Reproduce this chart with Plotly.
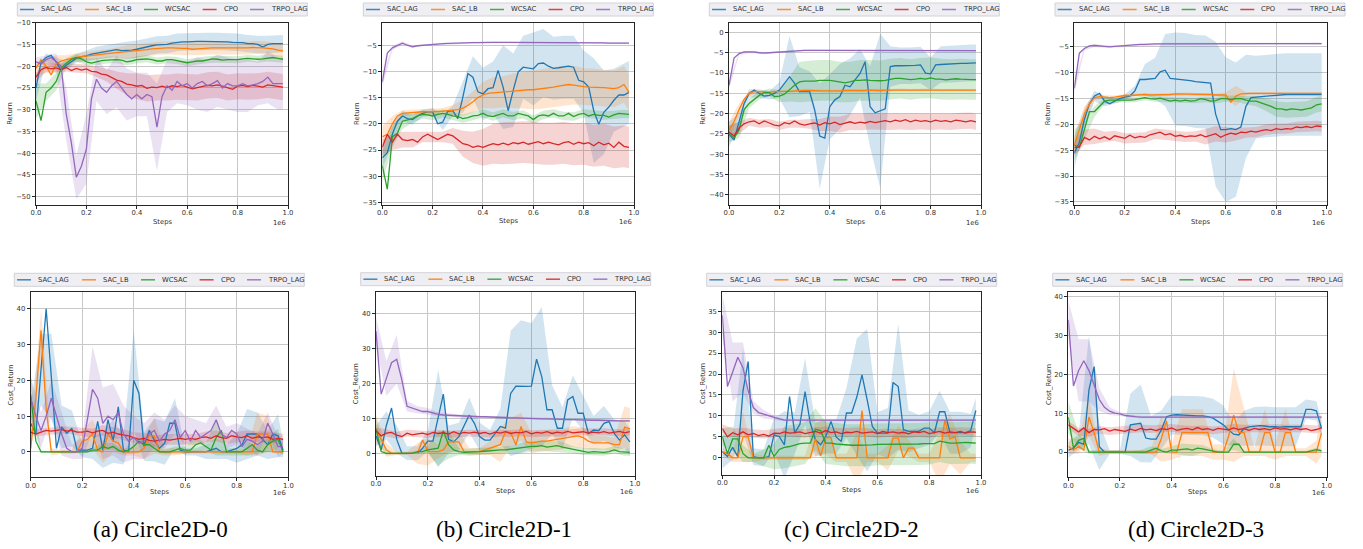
import plotly.graph_objects as go

# ---------------- data ----------------
# training steps (units of 1e6)
STEPS = [0.00, 0.02, 0.04, 0.06, 0.08, 0.10, 0.12, 0.14, 0.16, 0.18,
         0.20, 0.22, 0.24, 0.26, 0.28, 0.30, 0.32, 0.34, 0.36, 0.38,
         0.40, 0.42, 0.44, 0.46, 0.48, 0.50, 0.52, 0.54, 0.56, 0.58,
         0.60, 0.62, 0.64, 0.66, 0.68, 0.70, 0.72, 0.74, 0.76, 0.78,
         0.80, 0.82, 0.84, 0.86, 0.88, 0.90, 0.92, 0.94, 0.96, 0.98]
# steps at which the spread (std) was read
BAND_STEPS = [0.00, 0.04, 0.08, 0.12, 0.16, 0.20, 0.24, 0.28, 0.32, 0.36,
              0.40, 0.44, 0.48, 0.52, 0.56, 0.60, 0.64, 0.68, 0.72, 0.76,
              0.80, 0.84, 0.88, 0.92, 0.96, 0.98]

SERIES = ["SAC_LAG", "SAC_LB", "WCSAC", "CPO", "TRPO_LAG"]
COLORS = ["#1f77b4", "#ff7f0e", "#2ca02c", "#d62728", "#9467bd"]
CAPTIONS = ["(a) Circle2D-0", "(b) Circle2D-1", "(c) Circle2D-2", "(d) Circle2D-3"]

X_TICKS = [0.0, 0.2, 0.4, 0.6, 0.8, 1.0]
A_RET_TICKS = [-50, -45, -40, -35, -30, -25, -20, -15, -10]
B_RET_TICKS = [-35, -30, -25, -20, -15, -10, -5]
C_RET_TICKS = [-40, -35, -30, -25, -20, -15, -10, -5, 0]
D_RET_TICKS = [-35, -30, -25, -20, -15, -10, -5]
A_COST_TICKS = [0, 10, 20, 30, 40]
B_COST_TICKS = [0, 10, 20, 30, 40]
C_COST_TICKS = [0, 5, 10, 15, 20, 25, 30, 35]
D_COST_TICKS = [0, 10, 20, 30, 40]

# ---- (a) Circle2D-0 : Return ----
A_RET_SAC_LAG = [
    -25, -19, -18, -17.5, -19, -21, -19.8, -19, -18.2, -17.8,
    -17.6, -17.2, -17, -16.8, -16.6, -16.3, -16.2, -16.4, -16.4, -16.3,
    -16.1, -15.8, -15.6, -15.3, -15.1, -15, -15, -14.7, -14.5, -14.4,
    -14.4, -14.3, -14.3, -14.3, -14.3, -14.3, -14.3, -14.3, -14.4, -14.5,
    -14.5, -14.6, -14.8, -14.8, -15, -15.6, -15, -14.8, -14.8, -14.8]
A_RET_SAC_LAG_SD = [3, 1, 1, 1, 1, 1.2, 1.5, 1.5, 1.5, 2, 2, 2, 2, 2, 2, 2, 2, 2, 2, 2, 2, 2, 2, 2, 2, 2]
A_RET_SAC_LB = [
    -20.5, -18.5, -20, -22, -19.5, -18.8, -18.5, -18.2, -18, -17.8,
    -17.7, -17.6, -17.5, -17.3, -17.1, -17, -16.9, -16.8, -16.7, -16.6,
    -16.5, -16.3, -16.2, -16, -15.9, -15.9, -15.8, -15.8, -15.9, -15.9,
    -15.9, -16.1, -16, -15.9, -15.8, -15.8, -15.8, -15.8, -15.9, -15.9,
    -15.9, -15.8, -15.8, -15.7, -15.7, -15.8, -15.9, -16, -16.3, -16.5]
A_RET_SAC_LB_SD = [1.5, 1.5, 2, 1, 1, 1, 1, 1, 1.2, 1.5, 1.5, 1.5, 1.5, 1.5, 1.5, 1.5, 1.5, 1.5, 1.5, 1.5, 1.5, 1.5, 1.5, 1.5, 1.5, 1.5]
A_RET_WCSAC = [
    -28, -32.5, -26, -25, -23.5, -20.5, -19.3, -18.5, -18, -18.3,
    -19, -19.3, -19, -18.7, -18.6, -18.5, -18.5, -18.6, -19, -18.8,
    -18.5, -18.4, -18.3, -18.5, -18.8, -18.8, -18.5, -18.5, -18.7, -19,
    -19.2, -19, -18.8, -18.8, -18.5, -18.3, -18.4, -18.6, -18.5, -18.5,
    -18.5, -18.3, -18.2, -18.3, -18.4, -18.3, -18.1, -18, -18.2, -18.4]
A_RET_WCSAC_SD = [4, 2, 2, 1.2, 0.8, 0.8, 0.8, 0.8, 0.8, 0.8, 0.8, 0.8, 0.8, 0.8, 0.8, 0.8, 0.8, 0.8, 0.8, 0.8, 0.8, 0.8, 0.8, 0.8, 0.8, 0.8]
A_RET_CPO = [
    -22.5, -20.8, -20.3, -20.6, -20.4, -20.8, -20.3, -21, -20.5, -20.9,
    -20.6, -21.2, -21.3, -21.8, -22, -22.6, -23.2, -23.5, -24.1, -24.3,
    -24.6, -24.4, -25.1, -24.8, -24.9, -24.6, -24.9, -24.5, -24.7, -24.4,
    -24.8, -25.2, -24.9, -24.6, -24.4, -24.5, -24.3, -24.6, -24.9, -25.3,
    -24.6, -24.4, -24.7, -24.4, -24.6, -24.8, -24.3, -24.5, -24.6, -24.8]
A_RET_CPO_SD = [1, 1, 1, 1, 1, 1, 1.2, 1.5, 2, 2.5, 3, 3, 3, 3, 3, 3, 3, 3, 3, 3, 3, 3, 3, 3, 3, 3]
A_RET_TRPO_LAG = [
    -19, -19.5, -18.5, -18, -19, -20, -31, -37.5, -45.5, -43,
    -39, -27.5, -23, -25, -26, -24.5, -23.5, -25, -26.5, -27.5,
    -26.5, -27.5, -26.5, -27, -34, -27, -24.5, -25.5, -23.5, -24.5,
    -24, -25, -24, -23.5, -24.5, -24, -23.3, -25, -24, -24.5,
    -24.5, -24, -24.5, -24.3, -24, -23.5, -22.5, -24, -24, -24]
A_RET_TRPO_LAG_SD = [1, 1, 2, 6, 5, 8, 5, 5, 6, 6, 5, 5, 10, 6, 5, 5, 6, 6, 6, 6, 6, 6, 5, 6, 6, 6]

# ---- (b) Circle2D-1 : Return ----
B_RET_SAC_LAG = [
    -26.5, -25.5, -22, -19.5, -18.5, -19, -19.2, -18.5, -18, -17.7,
    -17.7, -20, -19.7, -17.6, -17.5, -19, -14.9, -10.4, -11.1, -13.9,
    -14.3, -13.3, -13.1, -9.8, -13, -17.5, -13.6, -10.1, -9.2, -9.3,
    -9.5, -8.5, -8.4, -9, -9.4, -9.3, -9.2, -9, -9.2, -11.7,
    -12, -13, -17.5, -20.1, -17.8, -16.8, -15.5, -14.5, -14.5, -14]
B_RET_SAC_LAG_SD = [2, 2, 1, 1, 0.7, 0.7, 1.5, 1, 3, 4, 5, 5, 8, 7, 6, 7, 6.5, 6, 6, 6, 6, 10, 8, 6, 6, 6]
B_RET_SAC_LB = [
    -22.5, -22, -20, -18.5, -18, -17.9, -17.8, -17.8, -17.7, -17.7,
    -17.7, -17.6, -17.6, -17.5, -17.4, -17.3, -17, -16.5, -15.8, -15,
    -14.5, -14.2, -14.1, -14, -13.9, -13.8, -13.7, -13.7, -13.6, -13.5,
    -13.5, -13.4, -13.3, -13.1, -13, -12.8, -12.7, -12.5, -12.6, -12.8,
    -12.9, -13, -13, -13, -13.1, -13.2, -13.3, -13.1, -12.5, -14]
B_RET_SAC_LB_SD = [2, 1.5, 0.6, 0.5, 0.5, 0.5, 0.6, 1, 1.5, 2, 2.5, 3, 3, 3.3, 3.5, 3.7, 3.8, 3.8, 3.8, 3.7, 3.5, 3.5, 3.5, 3.5, 3.5, 3.5]
B_RET_WCSAC = [
    -28, -32.5, -22.5, -21.8, -19.5, -19.2, -19, -18.5, -18.2, -18.3,
    -18.5, -18.2, -18, -18.2, -18.5, -18.6, -19, -18.8, -18.5, -18.4,
    -18, -18.5, -18.6, -18.3, -18, -18.5, -18.5, -18, -18.2, -18.5,
    -19.2, -18.5, -18.3, -18.5, -18, -18.5, -18.5, -18, -18.6, -18.2,
    -18, -18.5, -18.2, -18.4, -18.4, -18.7, -18.3, -18, -18.1, -18.2]
B_RET_WCSAC_SD = [3, 2, 1.5, 0.8, 0.8, 0.8, 0.8, 0.8, 0.8, 0.8, 0.8, 0.8, 0.8, 0.8, 0.8, 0.8, 0.8, 0.8, 0.8, 0.8, 0.8, 0.8, 0.8, 0.8, 0.8, 0.8]
B_RET_CPO = [
    -24.5, -22, -23.5, -22, -23, -23.2, -23, -23.5, -22.5, -22,
    -22.5, -23, -22.5, -22, -22.3, -23, -23.8, -24, -24.5, -24.2,
    -24.5, -24.1, -23.8, -24, -23.7, -24, -23.6, -23.8, -23.5, -23.9,
    -23.6, -23.4, -23.8, -23.5, -23.8, -24, -23.6, -23.4, -23.9, -23.5,
    -23.8, -23.6, -24.2, -23.5, -24, -23.7, -24.5, -23.5, -24.3, -24.5]
B_RET_CPO_SD = [1.5, 1.5, 1.5, 1.5, 1, 1, 1, 1.5, 2.5, 3, 3.5, 3.8, 4, 4, 4, 4, 4, 4, 4, 4, 4, 4, 4, 4, 4, 4]
B_RET_TRPO_LAG = [
    -12, -6.5, -5.5, -5, -4.6, -5, -5.3, -5.1, -5, -4.95,
    -4.9, -4.8, -4.7, -4.65, -4.6, -4.6, -4.55, -4.5, -4.5, -4.5,
    -4.45, -4.45, -4.45, -4.45, -4.45, -4.45, -4.45, -4.45, -4.45, -4.45,
    -4.45, -4.45, -4.45, -4.45, -4.5, -4.5, -4.5, -4.5, -4.5, -4.5,
    -4.5, -4.5, -4.55, -4.55, -4.55, -4.6, -4.6, -4.6, -4.6, -4.6]
B_RET_TRPO_LAG_SD = [1, 0.4, 0.3, 0.2, 0.15, 0.15, 0.15, 0.15, 0.15, 0.15, 0.15, 0.15, 0.15, 0.15, 0.15, 0.15, 0.15, 0.15, 0.15, 0.15, 0.15, 0.15, 0.15, 0.15, 0.15, 0.15]

# ---- (c) Circle2D-2 : Return ----
C_RET_SAC_LAG = [
    -25, -26.5, -22, -17.5, -15, -14.2, -15, -15.7, -15.5, -15,
    -14.2, -12.5, -10.9, -12.5, -14.6, -14.5, -14.6, -19.1, -25.5, -26,
    -18.3, -16.6, -15.8, -13, -13.4, -11.7, -10.1, -7.2, -18.3, -19.8,
    -19.3, -18.8, -8.4, -8.2, -8.2, -8.2, -8.2, -8.1, -8, -10,
    -10.2, -8, -7.9, -7.8, -7.8, -7.7, -7.6, -7.6, -7.5, -7.5]
C_RET_SAC_LAG_SD = [3, 2, 1, 1, 1, 2, 10, 6, 5, 13, 8, 8, 7, 6, 10, 19, 5, 4.5, 4.5, 4.5, 4, 4.5, 4.5, 4.5, 4.5, 4.5]
C_RET_SAC_LB = [
    -24, -22, -19, -16.5, -15, -14.5, -14.6, -14.7, -14.7, -14.6,
    -14.5, -14.5, -14.5, -14.4, -14.3, -14.3, -14.3, -14.4, -14.4, -14.4,
    -14.4, -14.5, -14.4, -14.3, -14.3, -14.4, -14.4, -14.3, -14.2, -14.3,
    -14.3, -14.2, -14.2, -14.2, -14.1, -14.1, -14.2, -14.2, -14.1, -14.1,
    -14.1, -14.2, -14.2, -14.2, -14.2, -14.1, -14.2, -14.2, -14.2, -14.2]
C_RET_SAC_LB_SD = [2, 1.5, 0.5, 0.3, 0.3, 0.3, 0.3, 0.3, 0.3, 0.3, 0.3, 0.3, 0.3, 0.3, 0.3, 0.3, 0.3, 0.3, 0.3, 0.3, 0.3, 0.3, 0.3, 0.3, 0.3, 0.3]
C_RET_WCSAC = [
    -25, -26, -24, -19, -17.5, -16.5, -15.5, -14.8, -14.8, -15.8,
    -15.7, -15.2, -14, -13, -12.2, -12, -12, -12, -11.8, -11.8,
    -11.8, -12, -12.2, -12.4, -12.2, -11.8, -11.8, -11.7, -11.8, -11.9,
    -11.9, -11.8, -11.5, -11.3, -11.3, -11.4, -11.6, -11.5, -11.3, -11.5,
    -11.2, -11.5, -11.5, -11.7, -11.6, -11.4, -11.5, -11.6, -11.6, -11.6]
C_RET_WCSAC_SD = [2, 2, 1.2, 1, 1, 1.5, 3, 5, 5, 5, 5, 5, 5, 5, 5, 5, 5, 5, 5, 5, 5, 5, 5, 5, 5, 5]
C_RET_CPO = [
    -24.5, -25.5, -23.5, -22.5, -22, -21.8, -22.5, -21.8, -22.3, -22.8,
    -23, -22.2, -22.5, -21.8, -22.5, -22.8, -22.5, -22.3, -22.8, -22.2,
    -22.5, -22.1, -22.7, -22.3, -22, -22.4, -22.1, -22.3, -21.9, -22.2,
    -22, -21.7, -22, -21.6, -21.9, -21.5, -22, -21.6, -21.9, -21.7,
    -22, -21.6, -21.9, -21.7, -22, -21.6, -21.8, -22, -21.7, -22]
C_RET_CPO_SD = [1.5, 1.5, 1, 1, 1, 1, 1, 1, 1.2, 1.5, 1.8, 2, 2, 2, 2, 2, 2, 2, 2, 2, 2, 2, 2, 2, 2, 2]
C_RET_TRPO_LAG = [
    -13, -6.3, -5.2, -4.8, -4.8, -4.8, -5, -5.1, -5, -4.9,
    -4.8, -4.7, -4.6, -4.5, -4.45, -4.4, -4.4, -4.4, -4.4, -4.4,
    -4.4, -4.4, -4.4, -4.4, -4.4, -4.4, -4.4, -4.4, -4.4, -4.4,
    -4.4, -4.4, -4.4, -4.4, -4.4, -4.4, -4.4, -4.4, -4.4, -4.4,
    -4.4, -4.4, -4.4, -4.4, -4.4, -4.45, -4.45, -4.45, -4.5, -4.5]
C_RET_TRPO_LAG_SD = [1, 0.4, 0.3, 0.25, 0.2, 0.2, 0.2, 0.2, 0.2, 0.2, 0.2, 0.2, 0.2, 0.2, 0.2, 0.2, 0.2, 0.2, 0.2, 0.2, 0.2, 0.2, 0.2, 0.2, 0.2, 0.2]

# ---- (d) Circle2D-3 : Return ----
D_RET_SAC_LAG = [
    -25.5, -23.5, -19, -16, -14.5, -14, -15.5, -16, -15.5, -15,
    -14.7, -14.5, -13.5, -11.3, -11.3, -11.2, -11.1, -9.8, -9.5, -11.1,
    -11.2, -11.2, -11.3, -11.5, -11.7, -11.8, -11.8, -12, -18, -21,
    -21, -20.8, -21, -20.5, -16.5, -14.8, -14.7, -14.6, -14.5, -14.4,
    -14.3, -14.3, -14.2, -14.2, -14.2, -14.2, -14.2, -14.2, -14.2, -14.2]
D_RET_SAC_LAG_SD = [3, 2, 1, 1, 0.5, 0.5, 1, 3, 4, 7, 9, 9, 9, 9, 14, 14, 13, 10, 8, 8, 8, 8, 8, 8, 8, 8]
D_RET_SAC_LB = [
    -24, -21, -18, -16, -14.8, -14.6, -14.7, -14.8, -14.7, -14.5,
    -14.4, -14.4, -14.3, -14.2, -14.2, -14.3, -14.3, -14.2, -14.2, -14.2,
    -14.1, -14.1, -14.1, -14.2, -14.2, -14.1, -14.2, -14.2, -14.3, -14.3,
    -14.3, -15.7, -14.5, -14.1, -14, -14, -14, -14, -14, -14,
    -14, -14, -14, -14, -13.9, -14, -14, -13.9, -13.9, -14]
D_RET_SAC_LB_SD = [2, 1.5, 0.5, 0.3, 0.3, 0.3, 0.3, 0.3, 0.3, 0.3, 0.3, 0.3, 0.3, 0.3, 0.3, 0.5, 2, 0.3, 0.3, 0.3, 0.3, 0.3, 0.3, 0.3, 0.3, 0.3]
D_RET_WCSAC = [
    -24, -24.5, -21, -17.5, -17.5, -16.5, -15.5, -15.3, -15.3, -15.4,
    -15.3, -15.3, -15.2, -15, -14.8, -15, -15.1, -14.9, -15.2, -15.5,
    -15.3, -15.5, -15.3, -15.5, -15.4, -15, -15.2, -15.5, -15.4, -15,
    -15, -15.2, -15, -15, -15.3, -15.5, -15.5, -15.8, -16.2, -16.5,
    -17, -17, -17.2, -17, -17.1, -17.2, -17, -16.8, -16.2, -16]
D_RET_WCSAC_SD = [3, 2, 1, 0.6, 0.5, 0.5, 0.5, 0.5, 0.5, 0.5, 0.5, 0.5, 0.5, 0.5, 0.5, 0.6, 0.6, 0.8, 1, 1.2, 1.5, 1.5, 1.5, 1.5, 1.5, 1.5]
D_RET_CPO = [
    -24.5, -24.3, -22.5, -23, -22.3, -22.8, -22.4, -22.9, -22.2, -22.5,
    -22.7, -22.1, -22.6, -22.3, -22.5, -22, -21.8, -21.5, -22, -21.8,
    -22.3, -22.1, -22.4, -22.2, -22.3, -22, -22.4, -22.1, -21.8, -22.5,
    -22, -21.7, -21.9, -21.5, -21.6, -21.3, -21.5, -21.2, -21, -21.2,
    -20.8, -21, -20.8, -20.9, -20.5, -20.6, -20.4, -20.6, -20.3, -20.4]
D_RET_CPO_SD = [1.5, 1.5, 1.5, 1, 1, 1, 1, 1, 1, 1, 1, 1, 1, 1.5, 1.5, 1.5, 1.2, 1, 1, 1, 1, 1, 1, 1, 1, 1]
D_RET_TRPO_LAG = [
    -13, -6.2, -5.3, -4.8, -4.7, -4.8, -4.9, -5, -4.9, -4.8,
    -4.8, -4.7, -4.6, -4.5, -4.5, -4.4, -4.4, -4.4, -4.4, -4.4,
    -4.4, -4.4, -4.4, -4.4, -4.4, -4.4, -4.4, -4.4, -4.4, -4.4,
    -4.4, -4.4, -4.4, -4.4, -4.4, -4.4, -4.4, -4.4, -4.4, -4.4,
    -4.4, -4.4, -4.4, -4.4, -4.4, -4.35, -4.35, -4.35, -4.35, -4.35]
D_RET_TRPO_LAG_SD = [1, 0.4, 0.3, 0.25, 0.2, 0.2, 0.2, 0.2, 0.2, 0.2, 0.2, 0.2, 0.2, 0.2, 0.2, 0.2, 0.2, 0.2, 0.2, 0.2, 0.2, 0.2, 0.2, 0.2, 0.2, 0.2]

# ---- (a) Circle2D-0 : Cost_Return ----
A_COST_SAC_LAG = [
    8, 5, 23, 40, 21, 1, 7, 5.2, 6.6, 0.5,
    0.5, 0.5, 1, 8.5, 0.5, 9, 3, 12.6, 0.5, 0,
    20, 16.4, 1.5, 6, 3.3, 1, 2.4, 8, 8, 0.5,
    0, 0, 0, 0, 0, 0.5, 1, 0, 0, 0.5,
    1, 2, 5, 5, 5, 3.5, 2, 5, 4.5, 0.5]
A_COST_SAC_LAG_SD = [5, 10, 12, 6, 5, 2, 3, 5, 6, 4, 14, 4, 6, 6, 7, 1, 1, 2, 3, 2, 4, 7, 6, 4, 6, 2]
A_COST_SAC_LB = [
    1, 15, 34, 12, 0, 0, 0, 0, 0, 0,
    3, 3.5, 5, 0.5, 0, 5, 3, 2.5, 0, 0,
    0, 0, 1, 4.5, 4.5, 0, 0, 0, 0, 0,
    0, 0, 0, 0, 0, 0, 0, 0, 0, 0,
    0, 0, 0, 0, 5, 5, 5, 0, 0, 0]
A_COST_SAC_LB_SD = [2, 6, 1, 0.5, 0.5, 3, 4, 3, 3, 1, 1, 3, 5, 1, 1, 0.5, 0.5, 0.5, 0.5, 0.5, 0.5, 1, 6, 5, 0.5, 0.5]
A_COST_WCSAC = [
    16, 3, 0, 0, 0, 0, 0, 0, 0, 0,
    0, 0, 0.5, 0.5, 1.5, 1, 1.5, 0.5, 0, 0.5,
    1.5, 3, 2, 2, 1, 0, 0, 0, 0.5, 1,
    0.5, 0.5, 2, 2.5, 1.5, 0.5, 4, 6, 0, 0,
    0, 0, 1, 2, 0.5, 0, 2, 3, 3.5, 0]
A_COST_WCSAC_SD = [6, 0.3, 0.3, 0.3, 0.3, 0.3, 0.5, 1, 1, 0.5, 2, 2, 1, 0.5, 1, 1, 2, 1, 5, 1, 1, 2, 1, 2, 3, 1]
A_COST_CPO = [
    5.5, 5, 5.5, 6, 5.8, 6, 6.2, 5.8, 6, 5.5,
    5.5, 5.8, 5.3, 5.8, 6, 5.2, 5.5, 5, 4.8, 4.5,
    4, 3.5, 3.8, 3.2, 3, 3.2, 3.5, 3.3, 3.5, 3.8,
    3.5, 3.8, 3.5, 4, 4.2, 3.8, 4.5, 4, 3.8, 4.5,
    4.2, 4, 4.5, 3.8, 4.2, 4, 4.2, 3.5, 3.8, 3.5]
A_COST_CPO_SD = [1, 1, 1, 1, 1, 1.2, 1.2, 1.5, 1.5, 1.5, 1.5, 1.5, 1.5, 1.5, 1.5, 1.5, 1.5, 1.5, 1.5, 1.5, 1.5, 1.5, 1.5, 1.5, 1.5, 1.5]
A_COST_TRPO_LAG = [
    15, 10, 6, 10, 15, 10, 5, 1, 0, 0,
    1, 9, 17.5, 15, 8, 10, 9, 11, 5, 3,
    4, 2.5, 3, 5, 6, 3, 5, 6, 9, 4,
    6, 3, 6, 4, 5, 6, 9, 5, 4, 6,
    5, 1.5, 3.5, 3, 2, 3, 8, 5, 1.5, 1.5]
A_COST_TRPO_LAG_SD = [6, 5, 5, 6, 2, 3, 12, 10, 10, 8, 6, 5, 5, 4, 4, 4, 3, 3, 4, 3, 3, 3, 3, 3, 3, 2]

# ---- (b) Circle2D-1 : Cost_Return ----
B_COST_SAC_LAG = [
    5, 1, 8, 13, 4, 0, 0, 0, 0, 1.5,
    3.5, 3.5, 10, 17, 4, 3.3, 4.8, 7.7, 11, 8.6,
    4.8, 3.8, 3.8, 5.7, 7.7, 7.2, 17.2, 19.3, 19.2, 19.2,
    19.3, 27, 22, 12.5, 12.5, 7.2, 7.2, 15.3, 16.3, 11.5,
    11.5, 5.7, 6.7, 6.5, 8.6, 9.1, 5.7, 3.8, 5.3, 3.3]
B_COST_SAC_LAG_SD = [3, 4, 4, 2, 2, 3, 14, 4, 4, 5, 4, 3, 5, 18, 19, 18, 20, 7, 6, 6, 5, 4, 5, 4, 4, 4]
B_COST_SAC_LB = [
    7, 4, 1, 0, 0, 0, 0, 0, 0, 3.8,
    0.5, 0.5, 0.5, 1, 3.3, 3.3, 3.3, 0.5, 0.5, 0.5,
    0.5, 1, 1.5, 2, 2.5, 6.2, 6, 2.4, 7.7, 3.3,
    3, 3.2, 3.5, 3.5, 3.8, 4, 4.2, 4.5, 4.8, 5,
    4.5, 3.5, 3, 3, 3, 3, 2.5, 2.5, 7.5, 7]
B_COST_SAC_LB_SD = [4, 2, 0.5, 0.5, 3, 4, 2, 3, 3, 1, 1, 2, 5, 4, 4, 3, 3, 3, 3, 3, 3, 2, 2, 2, 6, 6]
B_COST_WCSAC = [
    7, 0.5, 0, 0, 0, 0, 0, 0, 0.5, 0.5,
    1, 1.2, 1.5, 6.5, 2.5, 1, 0.5, 0.3, 0.3, 0.5,
    0.5, 0.6, 0.8, 0.8, 1, 1, 1.2, 1.5, 1.5, 1.8,
    2, 2, 2.2, 1.8, 2, 2.2, 1.8, 1.5, 1, 0.8,
    0.5, 0.3, 0.5, 0.3, 0.3, 0.5, 1, 0.5, 0.3, 0.3]
B_COST_WCSAC_SD = [3, 0.5, 0.3, 0.3, 0.3, 1, 5, 4, 1, 1, 1, 1, 1, 1, 1.5, 1.5, 1.5, 1.5, 1.5, 1, 1, 1, 1, 1, 1, 1]
B_COST_CPO = [
    6.5, 5, 5.8, 6, 5.2, 4.8, 5.8, 5.3, 5.6, 5.8,
    5.4, 6, 5.7, 5.9, 5.5, 6.2, 5.6, 6, 5.8, 6.1,
    5.7, 6, 5.5, 6.1, 5.8, 6.2, 5.7, 6, 5.9, 6.3,
    5.6, 6, 5.8, 6.2, 5.7, 6.1, 5.8, 6.3, 5.9, 6,
    6.2, 5.8, 6.1, 5.9, 6.2, 5.8, 6, 6.3, 5.9, 6.2]
B_COST_CPO_SD = [1, 1, 1, 1, 1, 1, 1, 1, 1, 1, 1, 1, 1, 1, 1, 1, 1, 1, 1, 1, 1, 1, 1, 1, 1, 1]
B_COST_TRPO_LAG = [
    35, 17, 21.5, 26, 27, 21, 13.5, 13, 12.5, 12,
    12, 11.5, 11.2, 11, 10.9, 10.8, 10.7, 10.7, 10.6, 10.6,
    10.5, 10.5, 10.4, 10.4, 10.3, 10.3, 10.2, 10.2, 10.1, 10.1,
    10, 10, 9.9, 9.9, 9.8, 9.8, 9.8, 9.7, 9.7, 9.6,
    9.6, 9.5, 9.5, 9.5, 9.4, 9.4, 9.4, 9.3, 9.3, 9.3]
B_COST_TRPO_LAG_SD = [4, 5, 7, 1.5, 1, 1, 0.5, 0.5, 0.3, 0.3, 0.3, 0.3, 0.3, 0.3, 0.3, 0.3, 0.3, 0.3, 0.3, 0.3, 0.3, 0.3, 0.3, 0.3, 0.3, 0.3]

# ---- (c) Circle2D-2 : Cost_Return ----
C_COST_SAC_LAG = [
    1.5, 0.3, 2.5, 0.3, 16, 23, 0.3, 0, 0, 0.3,
    5.5, 5.1, 3.1, 14.6, 5.9, 8, 15.8, 8.3, 4.3, 3.1,
    5.1, 8.7, 5, 3.9, 10.7, 10.7, 14.5, 19.8, 13.8, 7.5,
    5.9, 5.9, 5.9, 18, 17, 6.7, 6.3, 6.3, 6.3, 7.1,
    7.1, 6, 11, 11, 6, 6, 6, 6, 6.5, 11.3]
C_COST_SAC_LAG_SD = [4, 3, 10, 2, 2, 4, 8, 5, 8, 4, 4, 4, 6, 14, 17, 5, 6, 15, 5, 4, 4, 5, 5, 5, 4, 3]
C_COST_SAC_LB = [
    1.5, 1, 0, 0, 5, 5, 0, 0, 0, 0,
    0, 0, 0, 0, 0, 0, 0, 0, 4.5, 0.5,
    4.8, 4.8, 0, 0, 0, 0, 0, 11.3, 0, 0,
    0, 0, 0, 4.7, 4.7, 0, 2.3, 2.3, 0, 0,
    0, 0, 0, 9, 4.5, 5, 0, 0, 0, 0]
C_COST_SAC_LB_SD = [1, 1, 6, 1, 0.5, 0.5, 0.5, 0.5, 0.5, 4, 4, 1, 1, 6, 1, 1, 3, 3, 2, 1, 1, 6, 6, 4, 1, 1]
C_COST_WCSAC = [
    5, 1, 4.5, 4.5, 1, 0, 0, 0, 0, 3,
    0.3, 2, 2.5, 2.7, 3, 3.4, 3.5, 3.5, 6.8, 6.5,
    3.5, 3.5, 3.3, 3.2, 3, 3, 3, 3, 3, 3.1,
    3.2, 3.2, 3.2, 3.2, 3.2, 3.3, 3.3, 3.3, 3.3, 3.4,
    3.4, 3.4, 4, 3.8, 3.5, 3.5, 3.6, 3.7, 3.6, 3.5]
C_COST_WCSAC_SD = [2, 3, 2, 1, 2, 3, 5, 5, 5, 5, 5, 5, 5, 5, 5, 5, 5, 5, 5, 5, 5, 5, 5, 5, 5, 5]
C_COST_CPO = [
    7, 5, 6, 5.5, 6.2, 5.5, 5.8, 5.3, 5.6, 5.2,
    5.9, 5.8, 6.2, 5.9, 6, 6.2, 5.8, 6.1, 6.3, 5.9,
    6.5, 6, 6.2, 5.8, 6.1, 6, 6.3, 5.9, 6.1, 6.2,
    5.8, 6.3, 6, 6.2, 5.9, 6.1, 5.7, 6.2, 6, 6.3,
    5.8, 6.1, 6.3, 5.9, 6.2, 6, 6.3, 5.9, 6.2, 6.1]
C_COST_CPO_SD = [1, 1, 1, 1, 1, 1, 1, 1, 1, 1, 1, 1, 1, 1, 1, 1, 1, 1, 1, 1, 1, 1, 1, 1, 1, 1]
C_COST_TRPO_LAG = [
    34, 17, 20.5, 24, 21.5, 16, 12, 10.8, 10.4, 10,
    9.6, 9.3, 9, 9, 9, 9, 9, 9, 9, 9,
    9, 9, 9, 9, 9, 9, 9, 9, 9, 9,
    9, 9, 9, 9, 9, 9, 9, 9, 9, 9,
    9, 9, 9, 9, 9, 9, 9, 9, 9, 9]
C_COST_TRPO_LAG_SD = [5, 7, 6, 1.5, 1, 0.5, 0.3, 0.3, 0.3, 0.3, 0.3, 0.3, 0.3, 0.3, 0.3, 0.3, 0.3, 0.3, 0.3, 0.3, 0.3, 0.3, 0.3, 0.3, 0.3, 0.3]

# ---- (d) Circle2D-3 : Cost_Return ----
D_COST_SAC_LAG = [
    0.5, 1, 2.5, 2, 16, 22, 1.4, 0, 0, 0,
    0, 0, 7, 7.2, 7.4, 3.6, 3.3, 3.3, 5.7, 9.1,
    9.5, 9.6, 9.5, 9.4, 9.4, 9.3, 9.3, 9.1, 8.7, 7.8,
    7, 5.7, 4.6, 4.4, 6.1, 6.5, 6.6, 6.8, 6.7, 6.5,
    6.5, 6.4, 6.5, 6.5, 6.5, 6.5, 11, 11, 10.6, 6.1]
D_COST_SAC_LAG_SD = [2, 2, 14, 6, 0.5, 0.5, 8, 10, 6, 5, 5, 5, 5, 5, 5, 5, 3, 4.5, 5, 5, 5, 5, 5, 2.5, 2.5, 2]
D_COST_SAC_LB = [
    1.5, 0.5, 1.5, 0.5, 9, 5, 0, 0, 0, 0,
    0, 0, 0, 0, 0, 0, 0, 0, 3.5, 8,
    0, 0, 5, 5, 5, 5, 5, 5, 0, 0,
    0, 4, 9.5, 5, 5, 0, 0, 0, 5, 5,
    0, 0, 5, 5, 0, 0, 0, 0, 0, 5]
D_COST_SAC_LB_SD = [2, 2, 5, 1, 0.5, 0.5, 0.5, 0.5, 0.5, 6, 2, 6, 6, 6, 2, 2, 12, 6, 1, 6, 2, 6, 1, 1, 3, 6]
D_COST_WCSAC = [
    9, 1, 3, 3.5, 0, 0, 0, 0, 0, 0,
    0, 0, 0, 0, 0, 0, 0.5, 1, 0.3, 0,
    0.5, 0.5, 0.7, 0.8, 0.5, 1, 0.8, 0.5, 0.3, 0,
    0, 0, 2, 2, 0, 0, 0, 0, 0, 0,
    0, 0, 0, 0, 0, 0, 0, 0.3, 0.6, 0.3]
D_COST_WCSAC_SD = [4, 2, 0.5, 0.5, 0.3, 0.3, 0.3, 0.5, 1, 0.5, 1, 1.5, 1.5, 1, 0.5, 0.3, 1.5, 0.3, 0.3, 0.3, 0.3, 0.3, 0.3, 0.3, 0.5, 0.5]
D_COST_CPO = [
    7, 6, 5.2, 6.2, 5, 5.8, 5.7, 6, 5.4, 5.8,
    5.6, 5.3, 5.9, 5.5, 6.1, 5.7, 5.9, 5.5, 6, 5.8,
    6.2, 5.6, 5.9, 6.1, 5.7, 6.3, 5.8, 6, 5.6, 6.1,
    5.9, 5.7, 6.2, 5.8, 6, 5.6, 6.1, 5.8, 6, 5.7,
    6.2, 5.9, 6, 5.7, 6.1, 5.8, 6, 5.5, 5.8, 6.2]
D_COST_CPO_SD = [1, 1, 1, 1, 1, 1, 1, 1, 1, 1, 1, 1, 1, 1, 1, 1, 1, 1, 1, 1, 1, 1, 1, 1, 1, 1]
D_COST_TRPO_LAG = [
    34, 17, 21, 23.5, 21, 17.5, 13.5, 11.5, 10.5, 10,
    9.8, 9.4, 9.2, 9.1, 9, 9, 9, 9, 9, 9,
    9, 9, 9, 9, 9, 9, 9, 9, 9, 9,
    9, 9, 9, 9, 9, 9, 9, 9, 9, 9,
    9, 9, 9, 9, 9, 9, 9, 9, 9, 9]
D_COST_TRPO_LAG_SD = [5, 8, 8, 3, 1, 0.5, 0.3, 0.3, 0.3, 0.3, 0.3, 0.3, 0.3, 0.3, 0.3, 0.3, 0.3, 0.3, 0.3, 0.3, 0.3, 0.3, 0.3, 0.3, 0.3, 0.3]

PANELS = [
    dict(means=[A_RET_SAC_LAG, A_RET_SAC_LB, A_RET_WCSAC, A_RET_CPO, A_RET_TRPO_LAG],
         sds=[A_RET_SAC_LAG_SD, A_RET_SAC_LB_SD, A_RET_WCSAC_SD, A_RET_CPO_SD, A_RET_TRPO_LAG_SD],
         yrange=[-51.9, -10], yticks=A_RET_TICKS, ytitle="Return"),
    dict(means=[B_RET_SAC_LAG, B_RET_SAC_LB, B_RET_WCSAC, B_RET_CPO, B_RET_TRPO_LAG],
         sds=[B_RET_SAC_LAG_SD, B_RET_SAC_LB_SD, B_RET_WCSAC_SD, B_RET_CPO_SD, B_RET_TRPO_LAG_SD],
         yrange=[-35.4, -0.7], yticks=B_RET_TICKS, ytitle="Return"),
    dict(means=[C_RET_SAC_LAG, C_RET_SAC_LB, C_RET_WCSAC, C_RET_CPO, C_RET_TRPO_LAG],
         sds=[C_RET_SAC_LAG_SD, C_RET_SAC_LB_SD, C_RET_WCSAC_SD, C_RET_CPO_SD, C_RET_TRPO_LAG_SD],
         yrange=[-42.5, 2.4], yticks=C_RET_TICKS, ytitle="Return"),
    dict(means=[D_RET_SAC_LAG, D_RET_SAC_LB, D_RET_WCSAC, D_RET_CPO, D_RET_TRPO_LAG],
         sds=[D_RET_SAC_LAG_SD, D_RET_SAC_LB_SD, D_RET_WCSAC_SD, D_RET_CPO_SD, D_RET_TRPO_LAG_SD],
         yrange=[-35.6, -0.3], yticks=D_RET_TICKS, ytitle="Return"),
    dict(means=[A_COST_SAC_LAG, A_COST_SAC_LB, A_COST_WCSAC, A_COST_CPO, A_COST_TRPO_LAG],
         sds=[A_COST_SAC_LAG_SD, A_COST_SAC_LB_SD, A_COST_WCSAC_SD, A_COST_CPO_SD, A_COST_TRPO_LAG_SD],
         yrange=[-7.1, 44.6], yticks=A_COST_TICKS, ytitle="Cost_Return"),
    dict(means=[B_COST_SAC_LAG, B_COST_SAC_LB, B_COST_WCSAC, B_COST_CPO, B_COST_TRPO_LAG],
         sds=[B_COST_SAC_LAG_SD, B_COST_SAC_LB_SD, B_COST_WCSAC_SD, B_COST_CPO_SD, B_COST_TRPO_LAG_SD],
         yrange=[-6.5, 46.2], yticks=B_COST_TICKS, ytitle="Cost_Return"),
    dict(means=[C_COST_SAC_LAG, C_COST_SAC_LB, C_COST_WCSAC, C_COST_CPO, C_COST_TRPO_LAG],
         sds=[C_COST_SAC_LAG_SD, C_COST_SAC_LB_SD, C_COST_WCSAC_SD, C_COST_CPO_SD, C_COST_TRPO_LAG_SD],
         yrange=[-4.1, 39.5], yticks=C_COST_TICKS, ytitle="Cost_Return"),
    dict(means=[D_COST_SAC_LAG, D_COST_SAC_LB, D_COST_WCSAC, D_COST_CPO, D_COST_TRPO_LAG],
         sds=[D_COST_SAC_LAG_SD, D_COST_SAC_LB_SD, D_COST_WCSAC_SD, D_COST_CPO_SD, D_COST_TRPO_LAG_SD],
         yrange=[-6.5, 41.1], yticks=D_COST_TICKS, ytitle="Cost_Return"),
]

# ---------------- layout geometry (pixels) ----------------
W, H = 1363, 549
# plot-area boxes: left, right, top, bottom
BOXES = [(36, 288, 22.7, 205), (382.3, 634, 22.7, 204.5), (729, 981, 22.7, 205), (1074.3, 1326.7, 22.7, 205),
         (30.7, 288.3, 292.3, 477.3), (376, 635, 292.3, 476), (722.3, 981, 292.3, 475), (1068.3, 1326.7, 292.3, 477.3)]
# legend boxes: left, top
LEGEND_BOXES = [(17.3, 3), (363.3, 3), (709.3, 3), (1055, 3),
                (14.3, 273.3), (360.7, 272.7), (706.7, 273.3), (1052.7, 273.3)]
LEGEND_W, LEGEND_H = 290, 13
LEGEND_TEXT_OFFSETS = [21.7, 86.7, 145.7, 204.3, 251.7]
CAPTION_X = [160, 504, 851, 1196]
CAPTION_Y = 529
FONT = "DejaVu Sans"
SERIF = "Liberation Serif, Times New Roman, DejaVu Serif, serif"
TXT = "#333333"
FS = 6.8


def fx(p):
    return p / W


def fy(p):
    return 1 - p / H


def rgba(hexcol, a):
    h = hexcol.lstrip("#")
    return "rgba(%d,%d,%d,%.2f)" % (int(h[0:2], 16), int(h[2:4], 16), int(h[4:6], 16), a)


band_idx = [STEPS.index(s) for s in BAND_STEPS]

fig = go.Figure()
layout = dict(width=W, height=H, margin=dict(l=0, r=0, t=0, b=0), autosize=False,
              template="none", paper_bgcolor="white", plot_bgcolor="white",
              showlegend=False, font=dict(family=FONT, size=FS, color=TXT))
annotations = []
shapes = []

for p, panel in enumerate(PANELS):
    n = p + 1
    xa = "x" if n == 1 else "x%d" % n
    ya = "y" if n == 1 else "y%d" % n
    l, r, t, b = BOXES[p]
    # shaded spread bands first
    for s in range(len(SERIES)):
        mean = panel["means"][s]
        sd = panel["sds"][s]
        mb = [mean[i] for i in band_idx]
        lo = [m - d for m, d in zip(mb, sd)]
        hi = [m + d for m, d in zip(mb, sd)]
        fig.add_trace(go.Scatter(x=BAND_STEPS, y=lo, mode="lines", line=dict(width=0, color=COLORS[s]),
                                 hoverinfo="skip", showlegend=False, xaxis=xa, yaxis=ya))
        fig.add_trace(go.Scatter(x=BAND_STEPS, y=hi, mode="lines", line=dict(width=0, color=COLORS[s]),
                                 fill="tonexty", fillcolor=rgba(COLORS[s], 0.2),
                                 hoverinfo="skip", showlegend=False, xaxis=xa, yaxis=ya))
    for s in range(len(SERIES)):
        fig.add_trace(go.Scatter(x=STEPS, y=panel["means"][s], mode="lines", name=SERIES[s],
                                 line=dict(width=1.3, color=COLORS[s]), showlegend=False,
                                 xaxis=xa, yaxis=ya))

    axis_common = dict(showgrid=True, gridcolor="#c8c8c8", gridwidth=1.3, zeroline=False,
                       showline=True, mirror=True, linecolor="#262626", linewidth=1.2,
                       ticks="outside", ticklen=3, tickwidth=1, tickcolor="#262626",
                       tickfont=dict(family=FONT, size=FS, color=TXT), automargin=False)
    layout["xaxis" if n == 1 else "xaxis%d" % n] = dict(
        axis_common, domain=[fx(l), fx(r)], range=[0, 1.0], tickvals=X_TICKS, tickformat=".1f",
        ticklabelstandoff=-2, anchor=ya)
    layout["yaxis" if n == 1 else "yaxis%d" % n] = dict(
        axis_common, domain=[fy(b), fy(t)], range=panel["yrange"], tickvals=panel["yticks"],
        anchor=xa)

    xd, yd = xa + " domain", ya + " domain"
    top_row = p < 4
    annotations.append(dict(text="Steps", xref=xd, yref=yd, x=0.5, y=0, xanchor="center", yanchor="middle",
                            yshift=-17 if top_row else -15, showarrow=False,
                            font=dict(family=FONT, size=FS, color=TXT)))
    annotations.append(dict(text="1e6", xref=xd, yref=yd, x=1, y=0, xanchor="right", yanchor="middle",
                            yshift=-18 if top_row else -16, showarrow=False,
                            font=dict(family=FONT, size=FS, color=TXT)))
    annotations.append(dict(text=panel["ytitle"], xref=xd, yref=yd, x=0, y=0.5, xanchor="center",
                            yanchor="middle", textangle=-90, xshift=-26 if top_row else -20,
                            showarrow=False, font=dict(family=FONT, size=FS, color=TXT)))

    # legend (box, key lines, labels)
    ll, lt = LEGEND_BOXES[p]
    shapes.append(dict(type="rect", xref="paper", yref="paper", x0=fx(ll), x1=fx(ll + LEGEND_W),
                       y0=fy(lt + LEGEND_H), y1=fy(lt), fillcolor="#eeeef3",
                       line=dict(color="#d2d2d8", width=1), layer="above"))
    cy = lt + LEGEND_H / 2
    for s in range(len(SERIES)):
        tx = ll + LEGEND_TEXT_OFFSETS[s]
        shapes.append(dict(type="line", xref="paper", yref="paper", x0=fx(tx - 19), x1=fx(tx - 5),
                           y0=fy(cy), y1=fy(cy), line=dict(color=COLORS[s], width=1.5), opacity=0.85,
                           layer="above"))
        annotations.append(dict(text=SERIES[s], xref="paper", yref="paper", x=fx(tx), y=fy(cy),
                                xanchor="left", yanchor="middle", showarrow=False,
                                font=dict(family=FONT, size=FS, color=TXT)))

for c in range(4):
    annotations.append(dict(text=CAPTIONS[c], xref="paper", yref="paper", x=fx(CAPTION_X[c]),
                            y=fy(CAPTION_Y), xanchor="center", yanchor="middle", showarrow=False,
                            font=dict(family=SERIF, size=23, color="black")))

layout["annotations"] = annotations
layout["shapes"] = shapes
fig.update_layout(**layout)
fig.write_html("out.html")
